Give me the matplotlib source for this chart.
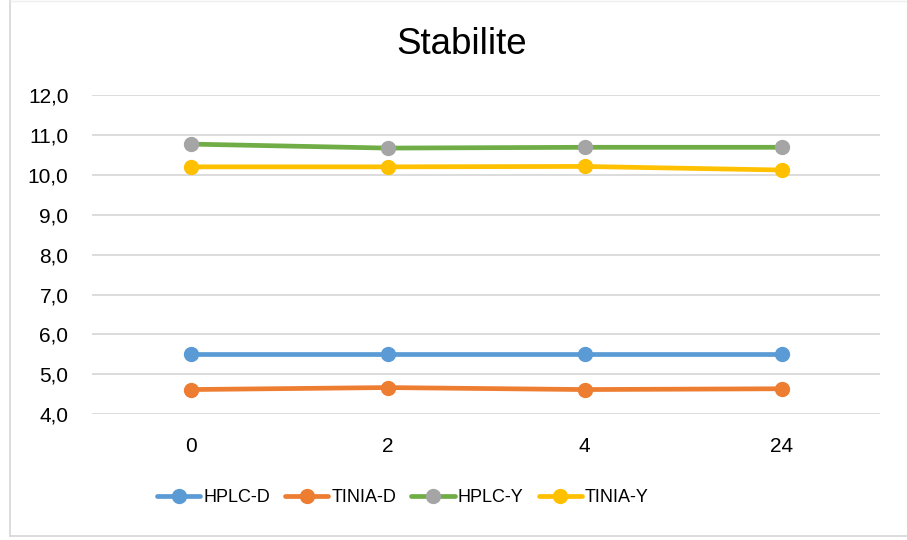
import matplotlib
matplotlib.use("Agg")
import matplotlib.pyplot as plt
from matplotlib.ticker import FuncFormatter, MultipleLocator
from matplotlib.lines import Line2D

# saatler ve olcumler
saat = ["0", "2", "4", "24"]
hplc_d = [5.50, 5.50, 5.50, 5.50]
tinia_d = [4.62, 4.67, 4.62, 4.64]
hplc_y = [10.77, 10.67, 10.69, 10.69]
tinia_y = [10.20, 10.20, 10.21, 10.12]

seriler = ["HPLC-D", "TINIA-D", "HPLC-Y", "TINIA-Y"]

plt.rcParams["font.family"] = ["Liberation Sans", "DejaVu Sans"]

fig = plt.figure(figsize=(9.07, 5.40), dpi=100)
ax = fig.add_axes([92 / 907, 1 - 414.3 / 540, 788 / 907, 319.3 / 540])

# cizgi renkleri ve nokta renkleri
stiller = [
    (hplc_d, "#5B9BD5", "#5B9BD5"),
    (tinia_d, "#ED7D31", "#ED7D31"),
    (hplc_y, "#70AD47", "#A5A5A5"),
    (tinia_y, "#FFC000", "#FFC000"),
]

x = list(range(len(saat)))
tutamaclar = []
for (deger, renk, nokta), ad in zip(stiller, seriler):
    ax.plot(x, deger, color=renk, lw=3.4, marker="o", ms=10,
            mfc=nokta, mec=nokta, solid_capstyle="round", zorder=3)
    tutamaclar.append(Line2D([0], [0], color=renk, lw=3.4, marker="o", ms=10,
                             mfc=nokta, mec=nokta, solid_capstyle="round", label=ad))

ax.set_xlim(-0.5, 3.5)
ax.set_ylim(4, 12)
ax.set_xticks(x)
ax.set_xticklabels(saat)
ax.yaxis.set_major_locator(MultipleLocator(1))
ax.yaxis.set_major_formatter(FuncFormatter(lambda v, p: f"{v:.1f}".replace(".", ",")))
ax.grid(axis="y", color="#D9D9D9", lw=1.3, zorder=0)
ax.set_axisbelow(True)
for s in ax.spines.values():
    s.set_visible(False)
ax.tick_params(axis="both", length=0, labelsize=15, colors="#000000")
ax.tick_params(axis="y", pad=17)
ax.tick_params(axis="x", pad=16)

fig.text(462 / 907, 1 - 44 / 540, "Stabilite", ha="center", va="center",
         fontsize=26.5, color="#000000")

leg = fig.legend(handles=tutamaclar, loc="center left",
                 bbox_to_anchor=(157 / 907, 1 - 498 / 540), ncol=4, frameon=False,
                 prop={"size": 13}, borderpad=0, borderaxespad=0,
                 handlelength=2.4, handletextpad=0.15, columnspacing=0.85)

# grafik cercevesi
fig.add_artist(Line2D([9.5 / 907, 9.5 / 907], [1 - 536 / 540, 1.0], color="#D9D9D9",
                      lw=1.3, transform=fig.transFigure))
fig.add_artist(Line2D([9.5 / 907, 1.0], [1 - 536 / 540, 1 - 536 / 540], color="#D9D9D9",
                      lw=1.3, transform=fig.transFigure))
fig.add_artist(Line2D([9.5 / 907, 1.0], [1 - 0.5 / 540, 1 - 0.5 / 540], color="#EEEEEE",
                      lw=1.0, transform=fig.transFigure))

fig.savefig("out.png", dpi=100)
